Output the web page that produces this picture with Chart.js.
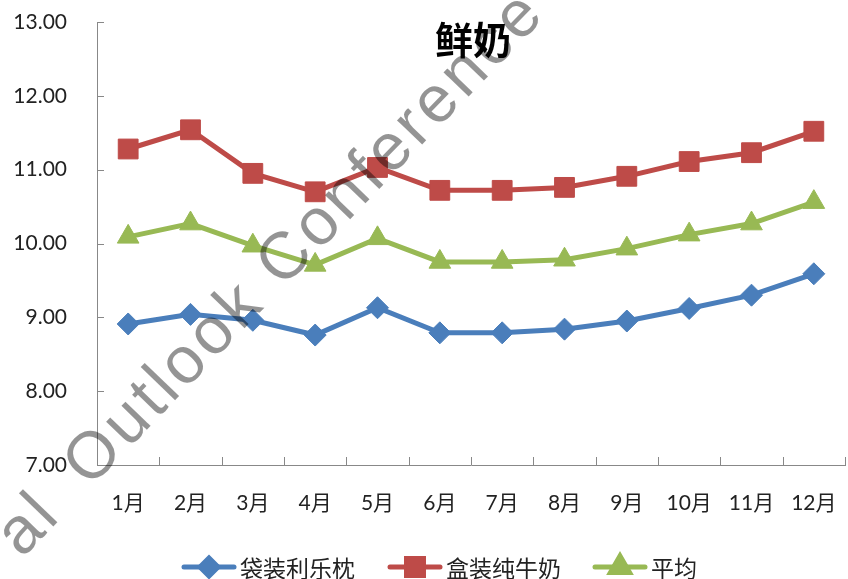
<!DOCTYPE html>
<html>
<head>
<meta charset="utf-8">
<script src="https://cdn.jsdelivr.net/npm/chart.js@4"></script>
<style>
  body { margin: 0; background: #fff; }
  #wrap { width: 848px; height: 579px; }
</style>
</head>
<body>
<div id="wrap"><canvas id="milkChart" width="848" height="579"></canvas></div>
<script>
// ---- datos ----
const months = ["1月", "2月", "3月", "4月", "5月", "6月", "7月", "8月", "9月", "10月", "11月", "12月"];
const pillowPack = [8.91, 9.04, 8.96, 8.76, 9.13, 8.79, 8.79, 8.84, 8.95, 9.12, 9.30, 9.59];
const boxedMilk = [11.28, 11.54, 10.95, 10.70, 11.03, 10.72, 10.72, 10.76, 10.91, 11.11, 11.23, 11.52];
const average = [10.09, 10.27, 9.97, 9.71, 10.07, 9.75, 9.75, 9.78, 9.93, 10.12, 10.27, 10.56];
const seriesNames = ["袋装利乐枕", "盒装纯牛奶", "平均"];
const chartTitle = "鲜奶";
const watermark = "al Outlook Conference";
const yMin = 7, yMax = 13, yStep = 1;

const BLUE = "#4A7EBB", RED = "#BE4B48", GREEN = "#98B954";
const NUM_FONT = "Lato, 'Noto Sans CJK SC', sans-serif";
const CJK_FONT = "'Noto Sans CJK SC', sans-serif";

// marcas de eje hacia dentro, como en Excel
const innerTicks = {
  id: "innerTicks",
  afterDatasetsDraw(chart) {
    const { ctx, chartArea, scales } = chart;
    ctx.save();
    ctx.strokeStyle = "#888";
    ctx.lineWidth = 1;
    ctx.beginPath();
    scales.y.ticks.forEach(t => {
      const y = Math.round(scales.y.getPixelForValue(t.value)) + 0.5;
      ctx.moveTo(chartArea.left, y);
      ctx.lineTo(chartArea.left + 7, y);
    });
    const step = (chartArea.right - chartArea.left) / months.length;
    for (let i = 1; i <= months.length; i++) {
      const x = Math.round(chartArea.left + i * step) + 0.5;
      ctx.moveTo(x, chartArea.bottom);
      ctx.lineTo(x, chartArea.bottom - 8);
    }
    ctx.stroke();
    ctx.restore();
  }
};

// título dentro del área del gráfico
const titleInside = {
  id: "titleInside",
  afterDraw(chart) {
    const { ctx, chartArea } = chart;
    ctx.save();
    ctx.fillStyle = "#000";
    ctx.font = "bold 38px " + CJK_FONT;
    ctx.textAlign = "center";
    ctx.textBaseline = "middle";
    ctx.fillText(chartTitle, (chartArea.left + chartArea.right) / 2 + 2, 40);
    ctx.restore();
  }
};

// leyenda con línea + marcador
const lineLegend = {
  id: "lineLegend",
  afterDraw(chart) {
    const { ctx } = chart;
    const entries = [
      { x: 184, style: "rectRot", radius: 9, color: BLUE },
      { x: 390, style: "rect", radius: 12, color: RED },
      { x: 595, style: "triangle", radius: 11, color: GREEN }
    ];
    const y = 567;
    ctx.save();
    entries.forEach((e, i) => {
      ctx.strokeStyle = e.color;
      ctx.lineWidth = 5;
      ctx.lineCap = "round";
      ctx.beginPath();
      ctx.moveTo(e.x, y);
      ctx.lineTo(e.x + 50, y);
      ctx.stroke();
      Chart.helpers.drawPoint(ctx, {
        pointStyle: e.style, radius: e.radius, borderWidth: 1, rotation: 0
      }, e.x + 25, y);
      ctx.fillStyle = e.color;
      ctx.fill();
      ctx.fillStyle = "#222";
      ctx.font = "23px " + CJK_FONT;
      ctx.textAlign = "left";
      ctx.textBaseline = "middle";
      ctx.fillText(seriesNames[i], e.x + 56, y + 1);
    });
    ctx.restore();
  }
};

// marca de agua girada, letra a letra con espaciado
const watermarkText = {
  id: "watermarkText",
  afterDraw(chart) {
    const { ctx } = chart;
    ctx.save();
    ctx.translate(22, 559);
    ctx.rotate(-46 * Math.PI / 180);
    ctx.fillStyle = "rgba(0,0,0,0.42)";
    ctx.font = "66px 'Liberation Sans', Arial, sans-serif";
    ctx.textAlign = "left";
    ctx.textBaseline = "alphabetic";
    let pos = 0;
    [...watermark].forEach((ch, i) => {
      ctx.fillText(ch, pos, 0);
      pos += ctx.measureText(ch).width + 4;
      if (i === 2) pos += 16;
    });
    ctx.restore();
  }
};

function makeSeries(label, data, color, style, radius) {
  return {
    label: label,
    data: data,
    borderColor: color,
    backgroundColor: color,
    borderWidth: 5,
    pointStyle: style,
    pointRadius: radius,
    pointHoverRadius: radius,
    pointBorderWidth: 1,
    pointBackgroundColor: color,
    pointBorderColor: color,
    tension: 0,
    fill: false
  };
}

const ctx = document.getElementById("milkChart").getContext("2d");
new Chart(ctx, {
  type: "line",
  data: {
    labels: months,
    datasets: [
      makeSeries(seriesNames[0], pillowPack, BLUE, "rectRot", 11),
      makeSeries(seriesNames[1], boxedMilk, RED, "rect", 14),
      makeSeries(seriesNames[2], average, GREEN, "triangle", 12.5)
    ]
  },
  options: {
    responsive: false,
    animation: false,
    layout: { autoPadding: false, padding: { top: 22, right: 3, bottom: 54, left: 0 } },
    plugins: {
      legend: { display: false },
      title: { display: false },
      tooltip: { enabled: false }
    },
    scales: {
      x: {
        offset: true,
        grid: { display: false, drawTicks: false },
        border: { display: true, color: "#888", width: 1 },
        ticks: {
          color: "#222",
          padding: 26,
          font: { family: NUM_FONT, size: 21 },
          maxRotation: 0,
          autoSkip: false
        },
        afterFit(scale) {
          scale.height = 60;
          scale.paddingLeft = 0;
          scale.paddingRight = 0;
        }
      },
      y: {
        min: yMin,
        max: yMax,
        grid: { display: false, drawTicks: false },
        border: { display: true, color: "#888", width: 1 },
        ticks: {
          stepSize: yStep,
          color: "#222",
          padding: 30,
          font: { family: NUM_FONT, size: 21 },
          callback: v => v.toFixed(2)
        },
        afterFit(scale) {
          scale.width = 97;
          scale.paddingTop = 0;
          scale.paddingBottom = 0;
        }
      }
    }
  },
  plugins: [innerTicks, titleInside, lineLegend, watermarkText]
});
</script>
</body>
</html>
